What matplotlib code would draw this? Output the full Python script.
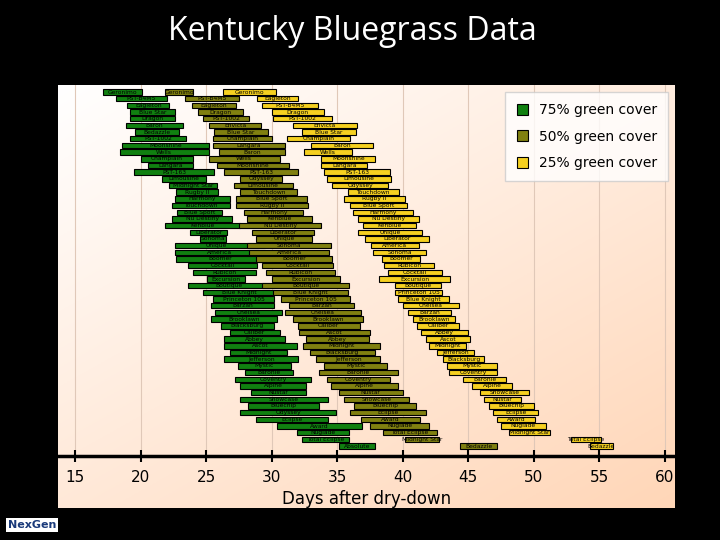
import matplotlib
matplotlib.use("Agg")
import matplotlib.pyplot as plt
import numpy as np

green_names = ["Geronimo","PST-B4M5","Eagleton","Blue Star","Dragon","Baron","Bedazzle","PST-1002","Moonshine","Wells",
 "Champlain","Langara","PST-163","Limousine","Midnight Star","Rugby II","Harmony","Touchdown","Blue Sport","Nu Destiny",
 "Kenblue","Liberator","Sonoma","Unique","America","Boomer","Cocktail","Rubicon","Excursion","Boutique",
 "Blue Knight","Princeton 105","Barzan","Chelsea","Brooklawn","Blacksburg","Caliber","Abbey","Ascot","Midnight",
 "Jefferson","Mystic","Baronie","Coventry","Alpine","Nustar","Showcase","Bluechip","Odyssey","Eclipse",
 "Award","Nuglade","Total Eclipse","Absolute"]
green_start = [17.1,18.1,19.0,19.2,19.2,18.9,19.6,19.2,18.6,18.4,20.0,20.6,19.5,21.6,22.2,22.7,22.6,22.4,22.8,22.4,21.9,23.8,24.5,22.6,22.6,22.7,23.6,24.0,25.1,23.6,24.8,25.5,25.4,25.7,25.4,26.1,26.8,26.4,26.4,26.8,26.4,27.4,28.0,27.2,27.6,28.4,27.6,28.2,27.6,28.8,30.4,31.9,32.3,35.1]
green_end = [20.1,22.0,22.2,22.6,22.6,23.2,22.9,23.5,25.2,25.2,24.0,24.0,25.6,25.0,25.8,25.9,26.8,26.8,26.2,27.0,27.6,26.6,26.5,29.0,29.5,29.5,28.9,28.8,28.0,29.9,30.2,30.2,30.2,30.8,30.4,30.2,30.6,31.0,31.9,31.2,32.0,31.5,31.6,33.0,32.6,32.6,34.3,33.6,34.9,34.3,36.9,35.9,35.9,37.9]

olive_names = ["Geronimo","PST-B4M5","Eagleton","Dragon","PST-1002","Envicta","Blue Star","Champlain","Langara","Baron",
 "Wells","Moonshine","PST-163","Odyssey","Limousine","Touchdown","Blue Sport","Rugby II","Harmony","Kenblue",
 "Nu Destiny","Liberator","Unique","Sonoma","America","Boomer","Cocktail","Rubicon","Excursion","Boutique",
 "Blue Knight","Princeton 105","Barzan","Chelsea","Brooklawn","Caliber","Ascot","Abbey","Midnight","Blacksburg",
 "Jefferson","Mystic","Baronie","Coventry","Alpine","Nustar","Showcase","Bluechip","Eclipse","Award",
 "Nuglade","Total Eclipse","Midnight Star","Bedazzle"]
olive_start = [21.9,23.4,23.9,24.4,24.8,25.2,25.6,25.5,25.5,26.0,25.2,25.8,26.4,27.6,27.1,27.6,27.3,27.3,27.9,28.1,27.5,28.5,28.8,28.1,28.3,28.8,29.3,29.6,30.0,29.3,30.1,30.7,31.3,31.0,31.6,32.0,32.1,32.6,32.4,32.9,33.4,34.0,33.6,34.2,34.5,35.1,35.5,36.3,36.0,36.8,37.5,38.5,40.2,44.4]
olive_end = [24.0,27.5,27.3,27.8,28.3,29.2,29.7,30.0,31.0,31.0,30.6,31.3,32.0,30.8,31.6,31.9,32.7,32.8,32.4,33.1,33.8,33.2,33.1,34.5,34.4,34.6,34.7,34.8,35.2,35.9,35.8,36.0,36.3,36.8,37.0,36.7,37.5,37.4,38.3,37.9,38.3,38.8,39.6,39.0,39.6,40.0,40.5,41.0,41.8,41.3,42.0,42.6,42.8,47.2]

yellow_names = ["Geronimo","Eagleton","PST-B4M5","Dragon","PST-1002","Envicta","Blue Star","Champlain","Baron","Wells",
 "Moonshine","Langara","PST-163","Limousine","Odyssey","Touchdown","Rugby II","Blue Sport","Harmony","Nu Destiny",
 "Kenblue","Unique","Liberator","America","Sonoma","Boomer","Rubicon","Cocktail","Excursion","Boutique",
 "Princeton 105","Blue Knight","Chelsea","Barzan","Brooklawn","Caliber","Abbey","Ascot","Midnight","Jefferson",
 "Blacksburg","Mystic","Coventry","Baronie","Alpine","Showcase","Nustar","Bluechip","Eclipse","Award",
 "Nuglade","Midnight Star","Total Eclipse","Bedazzle"]
yellow_start = [26.3,28.9,29.3,30.0,30.1,31.6,32.3,31.2,33.0,32.5,33.8,33.8,34.0,34.2,34.6,35.8,35.5,36.0,36.2,36.6,37.0,36.6,37.1,37.6,37.7,38.4,38.6,38.9,38.2,39.4,39.4,39.6,40.0,40.4,40.8,41.1,41.4,41.8,42.0,42.6,43.1,43.4,43.5,44.6,45.3,45.9,46.2,46.6,46.9,47.2,47.5,48.1,52.8,54.3]
yellow_end = [30.3,32.0,33.5,34.0,34.6,36.5,36.4,36.0,37.7,36.1,37.9,37.3,39.0,39.1,38.9,39.7,40.2,40.3,40.8,41.2,41.0,41.5,42.0,41.2,41.8,41.3,42.4,43.0,43.6,42.9,43.0,43.5,44.3,43.7,44.0,44.3,45.0,45.1,44.8,45.4,46.2,47.2,47.2,47.9,48.3,49.6,49.0,50.0,50.3,50.1,50.9,51.2,55.1,56.0]

series = [("75% green cover", "#108010", green_names, green_start, green_end),
          ("50% green cover", "#808010", olive_names, olive_start, olive_end),
          ("25% green cover", "#f5d020", yellow_names, yellow_start, yellow_end)]
xticks = [15, 20, 25, 30, 35, 40, 45, 50, 55, 60]

W, H = 720, 540
fig = plt.figure(figsize=(7.2, 5.4), dpi=100, facecolor="black")
fig.text(0.49, 1 - 32 / H, "Kentucky Bluegrass Data", color="white", fontsize=23,
         ha="center", va="center", family="Open Sans")

bg = fig.add_axes([58 / W, 1 - 508 / H, (675 - 58) / W, (508 - 85) / H])
yy, xx = np.mgrid[0:1:200j, 0:1:200j]
t = np.clip(0.55 * yy + 0.45 * xx, 0, 1)
c0 = np.array([1.0, 1.0, 1.0]); c1 = np.array([1.0, 0.84, 0.72])
img = c0 + (c1 - c0) * t[..., None]
bg.imshow(img, aspect="auto", extent=[0, 1, 0, 1], origin="upper")
bg.axis("off")

ax = fig.add_axes([58 / W, 1 - 456 / H, (675 - 58) / W, (456 - 85) / H])
ax.patch.set_alpha(0)
x0 = 15 - 17 / 13.11; x1 = 60 + 10 / 13.11
ax.set_xlim(x0, x1)
n = len(green_names)
ax.set_ylim((456 - 92) / 6.68, -7 / 6.68)
for xt in xticks:
    ax.axvline(xt, color="#e0c8b8", lw=0.8, zorder=0)
y = np.arange(n)
for label, col, names, s, e in series:
    s = np.array(s); e = np.array(e)
    ax.barh(y, e - s, left=s, height=0.82, color=col, edgecolor="black", lw=0.8, zorder=2, label=label)
    for i in range(n):
        ax.text((s[i] + e[i]) / 2, y[i], names[i], fontsize=4.3, ha="center", va="center",
                color="black", zorder=3)
for sp in ["top", "right", "left"]:
    ax.spines[sp].set_visible(False)
ax.spines["bottom"].set_linewidth(2.5)
ax.set_yticks([])
ax.set_xticks(xticks)
ax.tick_params(axis="x", direction="inout", length=8, width=1.5, labelsize=11, pad=6)
ax.set_xlabel("Days after dry-down", fontsize=12, labelpad=4)
leg = ax.legend(loc="upper right", bbox_to_anchor=(1.0, 1.0), fontsize=10, frameon=True,
                fancybox=False, edgecolor="#cccccc", handlelength=0.8, handleheight=0.8,
                labelspacing=0.9, borderpad=0.8)

fig.text(8 / W, 1 - 525 / H, "NexGen", color="#1a3a7a", fontsize=8, fontweight="bold",
         va="center", bbox=dict(facecolor="white", edgecolor="none", pad=1.5))
fig.savefig("out.png", dpi=100, facecolor="black")
